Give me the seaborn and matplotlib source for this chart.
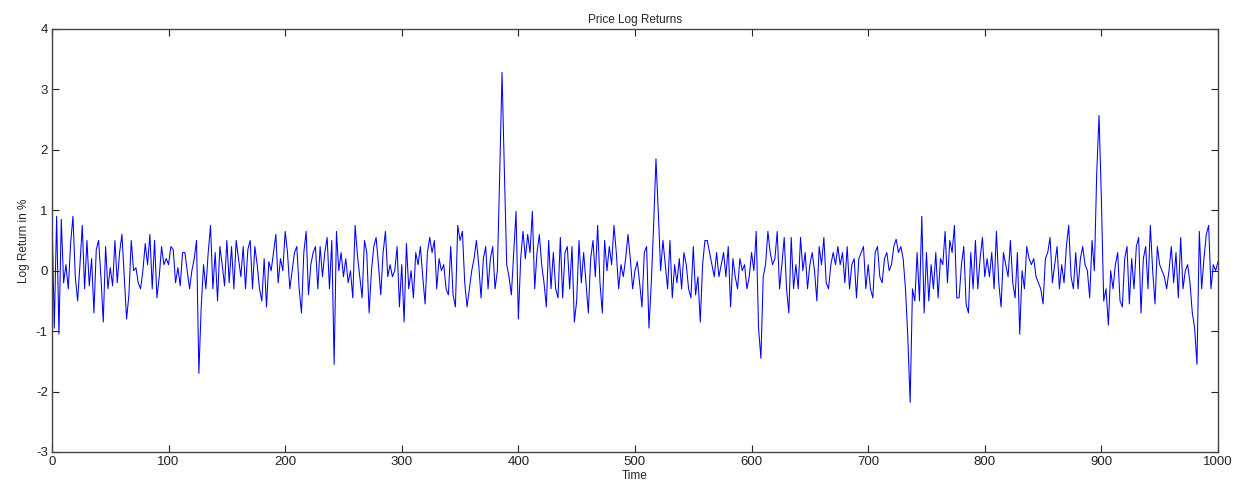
import numpy as np
import pandas as pd
import matplotlib
matplotlib.use("Agg")
import matplotlib.pyplot as plt
import seaborn as sns

log_returns = [
    0.95, -0.95, 0.9, -1.05, 0.85, -0.2, 0.1, -0.3, 0.45, 0.9,
    -0.1, -0.5, 0.1, 0.75, -0.3, 0.5, -0.25, 0.2, -0.7, 0.35,
    0.5, -0.1, -0.85, 0.4, -0.3, 0.05, -0.25, 0.5, -0.2, 0.3,
    0.6, -0.1, -0.8, -0.4, 0.5, 0.0, 0.05, -0.2, -0.3, 0.0,
    0.45, 0.1, 0.6, -0.3, 0.5, -0.45, -0.1, 0.4, 0.1, 0.2,
    0.1, 0.4, 0.35, -0.2, 0.05, -0.25, 0.3, 0.3, 0.0, -0.3,
    0.0, 0.2, 0.5, -1.7, -0.6, 0.1, -0.3, 0.3, 0.75, -0.3,
    0.3, -0.5, 0.4, 0.1, -0.25, 0.5, -0.2, 0.4, -0.3, 0.5,
    0.2, -0.1, 0.4, -0.3, 0.35, 0.5, -0.3, 0.4, 0.1, -0.3,
    -0.5, 0.2, -0.6, 0.15, 0.0, 0.3, 0.6, -0.2, 0.2, 0.0,
    0.65, 0.3, -0.3, 0.0, 0.3, 0.4, -0.3, -0.7, 0.3, 0.65,
    -0.4, 0.1, 0.3, 0.4, -0.3, 0.4, -0.1, 0.3, 0.55, -0.3,
    0.5, -1.55, 0.65, 0.0, 0.3, -0.1, 0.2, -0.2, 0.0, -0.45,
    0.75, 0.25, -0.1, -0.45, 0.5, 0.3, -0.7, 0.0, 0.4, 0.55,
    0.1, -0.4, 0.3, 0.65, -0.1, 0.1, -0.1, 0.0, 0.4, -0.6,
    0.1, -0.85, 0.45, -0.3, 0.0, -0.45, 0.3, 0.1, 0.4, -0.1,
    -0.55, 0.3, 0.55, 0.3, 0.5, -0.3, 0.2, 0.0, 0.1, -0.3,
    -0.4, 0.4, -0.4, -0.6, 0.75, 0.5, 0.65, -0.2, -0.6, -0.3,
    0.0, 0.2, 0.5, 0.1, -0.45, 0.2, 0.4, -0.3, 0.2, 0.4,
    -0.3, 0.0, 1.6, 3.28, 1.65, 0.1, -0.1, -0.4, 0.3, 0.98,
    -0.8, 0.2, 0.65, 0.2, 0.6, 0.3, 0.98, -0.3, 0.3, 0.6,
    0.1, -0.2, -0.6, 0.5, -0.3, 0.3, -0.3, -0.45, 0.55, -0.45,
    0.3, 0.4, -0.3, 0.4, -0.85, -0.5, 0.5, -0.2, 0.3, -0.2,
    -0.7, 0.2, 0.5, -0.1, 0.75, -0.2, -0.7, 0.5, 0.0, 0.4,
    0.1, 0.75, 0.3, -0.3, 0.1, -0.1, 0.2, 0.6, 0.2, -0.3,
    0.0, 0.15, -0.2, -0.6, 0.3, 0.4, -0.95, -0.2, 0.75, 1.85,
    0.98, 0.0, 0.5, 0.1, -0.3, 0.5, -0.45, 0.1, -0.2, 0.2,
    -0.3, 0.3, 0.1, -0.3, -0.45, 0.4, -0.4, -0.1, -0.85, 0.1,
    0.5, 0.5, 0.3, 0.1, -0.1, 0.3, -0.1, 0.1, 0.3, -0.1,
    0.4, -0.6, 0.2, -0.1, -0.3, 0.2, 0.0, 0.1, -0.3, -0.1,
    0.3, 0.0, 0.65, -0.95, -1.45, -0.1, 0.1, 0.65, 0.3, 0.1,
    0.2, 0.65, -0.3, 0.1, 0.55, -0.3, -0.7, 0.55, -0.3, 0.1,
    -0.3, 0.55, 0.0, 0.3, -0.3, 0.1, 0.3, 0.0, -0.5, 0.4,
    0.1, 0.55, -0.2, -0.3, 0.1, 0.3, 0.1, 0.4, 0.1, 0.3,
    -0.2, 0.4, -0.3, 0.1, 0.2, -0.45, 0.2, 0.3, 0.4, -0.3,
    0.1, -0.3, -0.45, 0.3, 0.4, -0.1, -0.2, 0.2, 0.3, 0.0,
    0.1, 0.4, 0.52, 0.3, 0.4, 0.2, -0.3, -1.1, -2.18, -0.3,
    -0.5, 0.3, -0.5, 0.9, -0.7, 0.3, -0.5, 0.1, -0.3, 0.3,
    -0.45, 0.2, 0.1, 0.65, -0.2, 0.5, 0.3, 0.75, -0.45, -0.45,
    0.1, 0.4, -0.55, -0.7, 0.3, -0.3, 0.5, -0.3, 0.2, 0.55,
    -0.1, 0.2, -0.1, 0.3, -0.3, 0.65, -0.2, -0.6, 0.3, 0.1,
    -0.1, 0.5, -0.2, -0.45, 0.3, -1.05, 0.0, -0.3, 0.4, 0.2,
    0.1, 0.2, -0.1, -0.2, -0.3, -0.55, 0.2, 0.3, 0.55, -0.2,
    0.1, 0.4, -0.3, 0.1, -0.2, 0.4, 0.75, -0.1, -0.3, 0.3,
    -0.3, 0.2, 0.4, 0.1, 0.0, -0.45, 0.5, 0.0, 1.6, 2.57,
    1.2, -0.5, -0.3, -0.9, 0.0, -0.3, 0.1, 0.3, -0.5, -0.6,
    0.2, 0.4, -0.55, 0.2, -0.3, 0.4, 0.55, -0.7, 0.2, 0.4,
    -0.3, 0.75, 0.0, -0.55, 0.4, 0.1, 0.0, -0.1, -0.3, 0.0,
    0.4, -0.2, 0.3, -0.45, 0.55, -0.3, 0.0, 0.1, -0.2, -0.7,
    -0.95, -1.55, 0.65, -0.3, 0.2, 0.6, 0.75, -0.3, 0.1, 0.0,
    0.15,
]
time_step = 2
x_ticks = [0, 100, 200, 300, 400, 500, 600, 700, 800, 900, 1000]
y_ticks = [-3, -2, -1, 0, 1, 2, 3, 4]

title_text = "Price Log Returns"
x_label = "Time"
y_label = "Log Return in %"

df = pd.DataFrame({
    "Time": np.arange(len(log_returns)) * time_step,
    "LogReturn": log_returns,
})

sns.set_style("white")
plt.rcParams["font.family"] = ["Liberation Sans", "DejaVu Sans"]
plt.rcParams["axes.unicode_minus"] = False

fig = plt.figure(figsize=(12.46, 4.87), dpi=100)
ax = fig.add_axes([0.0417, 0.0719, 0.9358, 0.8686])

sns.lineplot(data=df, x="Time", y="LogReturn", ax=ax, color="#0000ff",
             linewidth=0.75, estimator=None)

ax.set_xlim(0, 1000)
ax.set_ylim(-3, 4)
ax.set_xticks(x_ticks)
ax.set_yticks(y_ticks)
ax.tick_params(direction="in", length=5, width=0.8, colors="#222222",
               labelsize=9.5, top=True, right=True, bottom=True, left=True,
               pad=3)
for s in ax.spines.values():
    s.set_visible(True)
    s.set_color("#444444")
    s.set_linewidth(1.0)

ax.set_title(title_text, fontsize=8.5, pad=4)
ax.set_xlabel(x_label, fontsize=8.5, labelpad=1)
ax.set_ylabel(y_label, fontsize=8.5, labelpad=4)

fig.savefig("out.png", dpi=100, facecolor="white")
